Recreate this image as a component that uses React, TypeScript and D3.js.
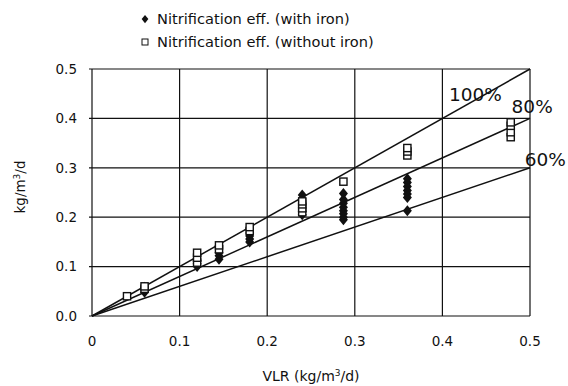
import React from "react";
import * as d3 from "d3";

// loading rate (x) and removal (y) for each run, kg/m3/d
const withIronX = [
  0.06, 0.06, 0.06,
  0.12, 0.12, 0.12,
  0.145, 0.145, 0.145,
  0.18, 0.18, 0.18, 0.18,
  0.24, 0.24, 0.24, 0.24, 0.24, 0.24,
  0.287, 0.287, 0.287, 0.287, 0.287, 0.287, 0.287, 0.287,
  0.36, 0.36, 0.36, 0.36, 0.36, 0.36, 0.36,
];
const withIronY = [
  0.048, 0.053, 0.058,
  0.1, 0.106, 0.112,
  0.115, 0.122, 0.128,
  0.15, 0.156, 0.162, 0.168,
  0.205, 0.212, 0.22, 0.228, 0.237, 0.245,
  0.195, 0.2, 0.207, 0.213, 0.22, 0.228, 0.236, 0.248,
  0.213, 0.24, 0.247, 0.254, 0.262, 0.27, 0.278,
];

const withoutIronX = [
  0.04,
  0.06, 0.06,
  0.12, 0.12, 0.12,
  0.145, 0.145,
  0.18, 0.18,
  0.24, 0.24, 0.24, 0.24,
  0.287,
  0.36, 0.36, 0.36,
  0.478, 0.478, 0.478, 0.478,
];
const withoutIronY = [
  0.04,
  0.055, 0.06,
  0.108, 0.118, 0.128,
  0.135, 0.143,
  0.172, 0.18,
  0.21, 0.218, 0.226, 0.232,
  0.272,
  0.325, 0.333, 0.34,
  0.362, 0.372, 0.385, 0.392,
];

// efficiency reference lines y = e * x
const efficiencies = [1, 0.8, 0.6];
const effLabels = ["100%", "80%", "60%"];
const effLabelX = [0.4075, 0.479, 0.494];
const effLabelY = [0.436, 0.41, 0.303];

const xTicks = [0, 0.1, 0.2, 0.3, 0.4, 0.5];
const xTickLabels = ["0", "0.1", "0.2", "0.3", "0.4", "0.5"];
const yTicks = [0, 0.1, 0.2, 0.3, 0.4, 0.5];
const yTickLabels = ["0.0", "0.1", "0.2", "0.3", "0.4", "0.5"];

const legendLabels = ["Nitrification eff. (with iron)", "Nitrification eff. (without iron)"];

const W = 568;
const H = 386;
const margin = { top: 69, right: 38, bottom: 70, left: 92 };
const font = "'DejaVu Sans', 'Liberation Sans', Arial, sans-serif";
const ink = "#111";

export default function App() {
  const x = d3.scaleLinear().domain([0, 0.5]).range([margin.left, W - margin.right]);
  const y = d3.scaleLinear().domain([0, 0.5]).range([H - margin.bottom, margin.top]);

  const line = d3
    .line<[number, number]>()
    .x((d) => x(d[0]))
    .y((d) => y(d[1]));

  const diamond = "M0,-5.5L4.5,0L0,5.5L-4.5,0Z";

  return (
    <svg
      width={W}
      height={H}
      style={{ position: "absolute", left: 0, top: 0, background: "#fff" }}
      fontFamily={font}
    >
      {/* grid */}
      <g stroke={ink} strokeWidth={1.2}>
        {xTicks.map((t) => (
          <line key={"gx" + t} x1={x(t)} x2={x(t)} y1={y(0)} y2={y(0.5)} />
        ))}
        {yTicks.map((t) => (
          <line key={"gy" + t} x1={x(0) - 3} x2={x(0.5)} y1={y(t)} y2={y(t)} />
        ))}
      </g>

      {/* efficiency lines */}
      <g stroke={ink} strokeWidth={1.5} fill="none">
        {efficiencies.map((e) => (
          <path key={e} d={line([[0, 0], [0.5, 0.5 * e]]) || ""} />
        ))}
      </g>

      {/* with iron */}
      <g fill={ink}>
        {withIronX.map((v, i) => (
          <path key={"w" + i} d={diamond} transform={`translate(${x(v)},${y(withIronY[i])})`} />
        ))}
      </g>

      {/* without iron */}
      <g fill="#fff" stroke={ink} strokeWidth={1.4}>
        {withoutIronX.map((v, i) => (
          <rect key={"o" + i} x={x(v) - 3.6} y={y(withoutIronY[i]) - 3.6} width={7.2} height={7.2} />
        ))}
      </g>

      {/* efficiency labels */}
      <g fontSize={18.5} fill={ink}>
        {effLabels.map((l, i) => (
          <text key={l} x={x(effLabelX[i])} y={y(effLabelY[i])}>
            {l}
          </text>
        ))}
      </g>

      {/* axis tick labels */}
      <g fontSize={13.5} fill={ink}>
        {xTicks.map((t, i) => (
          <text key={"xl" + t} x={x(t)} y={346} textAnchor="middle">
            {xTickLabels[i]}
          </text>
        ))}
        {yTicks.map((t, i) => (
          <text key={"yl" + t} x={77} y={y(t)} dy="0.35em" textAnchor="end">
            {yTickLabels[i]}
          </text>
        ))}
      </g>

      {/* axis titles */}
      <text x={311} y={381} fontSize={14} textAnchor="middle" fill={ink}>
        <tspan>VLR (kg/m</tspan>
        <tspan dy={-5} fontSize={9}>3</tspan>
        <tspan dy={5}>/d)</tspan>
      </text>
      <text
        transform="translate(25,187) rotate(-90)"
        fontSize={13.5}
        textAnchor="middle"
        fill={ink}
      >
        <tspan>kg/m</tspan>
        <tspan dy={-5} fontSize={9}>3</tspan>
        <tspan dy={5}>/d</tspan>
      </text>

      {/* legend */}
      <g fontSize={14.6} fill={ink}>
        <path d={diamond} transform="translate(145,19) scale(0.75)" />
        <text x={157} y={19} dy="0.35em">{legendLabels[0]}</text>
        <rect x={142} y={39} width={6} height={6} fill="#fff" stroke={ink} strokeWidth={1} />
        <text x={157} y={42} dy="0.35em">{legendLabels[1]}</text>
      </g>
    </svg>
  );
}
